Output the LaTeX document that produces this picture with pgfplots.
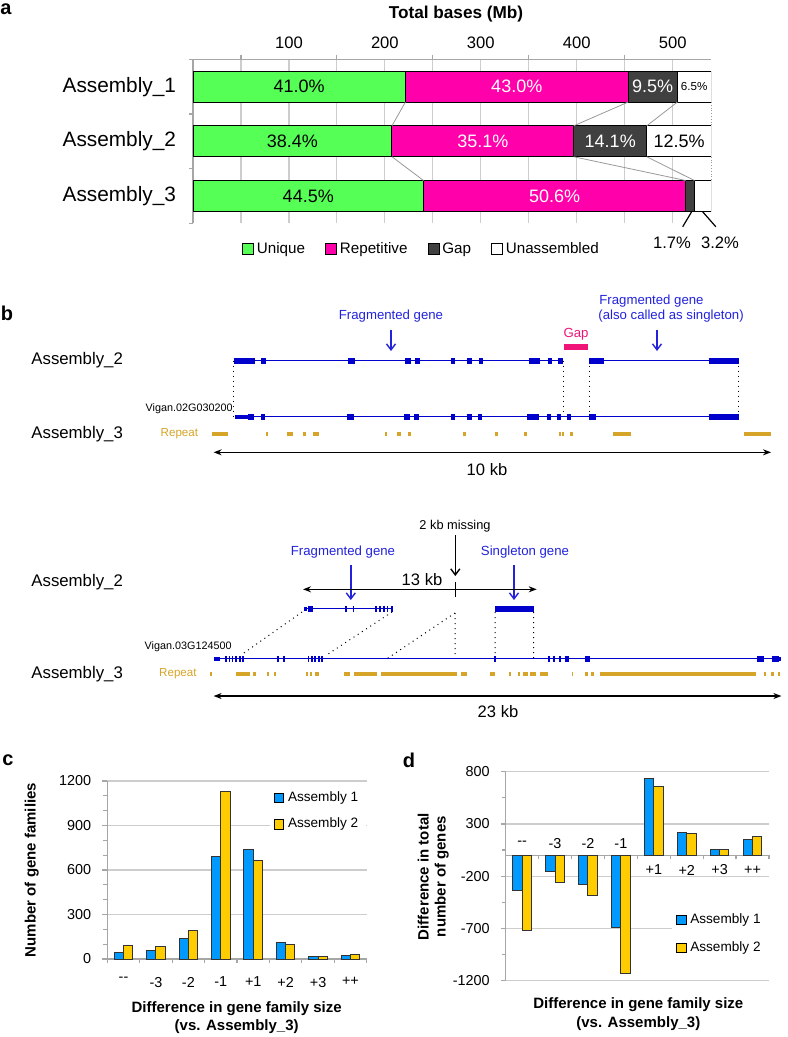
\documentclass[border=0pt]{standalone}
\usepackage{pgfplots}
\pgfplotsset{compat=1.18}
\usepackage{fontspec}
\setmainfont{Liberation Sans}
\usetikzlibrary{arrows.meta}

\definecolor{agreen}{RGB}{85,255,85}
\definecolor{amag}{RGB}{255,0,170}
\definecolor{agap}{RGB}{64,64,64}
\definecolor{gblue}{RGB}{0,0,204}
\definecolor{tblue}{RGB}{34,34,221}
\definecolor{gpink}{RGB}{238,20,120}
\definecolor{rgold}{RGB}{214,164,40}
\definecolor{cblue}{RGB}{0,153,255}
\definecolor{cgold}{RGB}{255,204,0}
\definecolor{gridc}{RGB}{205,205,205}

\newcommand{\fs}[1]{\fontsize{#1}{#1}\selectfont}

\pgfplotsset{
  /pgf/number format/assume math mode=true,
  /pgf/number format/1000 sep={},
  sqleg/.style={legend image code/.code={\draw[##1,draw=black,line width=0.4pt] (0pt,-#1) rectangle (2*#1,#1);}},
  exon/.style={gblue, line width=3pt},
  utr/.style={gblue, line width=1.8pt},
  intron/.style={gblue, line width=0.5pt},
  rep/.style={rgold, line width=2.2pt},
  ann/.style={tblue, line width=0.7pt, -{Straight Barb[length=3pt,width=4.5pt]}},
  scl/.style={black, line width=0.7pt, {Stealth[length=4pt,width=3pt]}-{Stealth[length=4pt,width=3pt]}},
  dots/.style={black, dotted, line width=0.5pt},
}

\begin{document}
\begin{tikzpicture}
\useasboundingbox (0,0) rectangle (393.5pt,-518.5pt);

% ---------- overlay in pixel units: panel b and free text ----------
\begin{axis}[at={(0pt,0pt)}, anchor=north west, scale only axis,
  width=393.5pt, height=518.5pt, xmin=0, xmax=787, ymin=0, ymax=1037,
  y dir=reverse, hide axis, clip=false, unbounded coords=jump]

% panel letters and titles
\node[font=\bfseries\fs{10}] at (6,9) {a};
\node[font=\bfseries\fs{10}] at (7,313) {b};
\node[font=\bfseries\fs{10}] at (8,760) {c};
\node[font=\bfseries\fs{10}] at (409,760) {d};
\node[font=\bfseries\fs{8.6}] at (456,14) {Total bases (Mb)};

% ----- b, top -----
\node[anchor=west, inner sep=0, font=\fs{8.4}] at (31,360) {Assembly\_2};
\node[anchor=west, inner sep=0, font=\fs{8.4}] at (31,434) {Assembly\_3};
\node[anchor=east, inner sep=0, font=\fs{5.8}, text=rgold] at (198.5,434) {Repeat};
\node[anchor=east, inner sep=0, font=\fs{5.4}] at (233,408.3) {Vigan.02G030200};
\node[font=\fs{6.6}, text=tblue] at (391,316) {Fragmented gene};
\node[font=\fs{6.6}, text=gpink] at (576,334.3) {Gap};
\node[anchor=west, inner sep=0, font=\fs{6.6}, text=tblue] at (599,300.7) {Fragmented gene};
\node[anchor=west, inner sep=0, font=\fs{6.6}, text=tblue] at (598,315.7) {(also called as singleton)};
\node[font=\fs{8.3}] at (487,469.3) {10 kb};

\addplot[ann] coordinates {(391,330) (391,351)};
\addplot[ann] coordinates {(657,330) (657,351)};
\addplot[gpink, line width=3pt] coordinates {(564,346.7) (588,346.7)};

\addplot[dots] coordinates {(233.7,360.7) (233.7,416.7) (nan,nan) (563.3,360.7) (563.3,416.7)
  (nan,nan) (589.4,360.7) (589.4,416.7) (nan,nan) (738.7,360.7) (738.7,416.7)};

% Assembly_2 gene models
\addplot[intron] coordinates {(233.7,360.7) (563.3,360.7) (nan,nan) (589.4,360.7) (738.7,360.7)};
\addplot[exon] coordinates {(233.7,360.7) (255.3,360.7) (nan,nan) (261.3,360.7) (266.3,360.7)
  (nan,nan) (348.2,360.7) (355.3,360.7) (nan,nan) (405,360.7) (411,360.7)
  (nan,nan) (415,360.7) (420,360.7) (nan,nan) (451.3,360.7) (455.3,360.7)
  (nan,nan) (467.3,360.7) (472.4,360.7) (nan,nan) (479,360.7) (483,360.7)
  (nan,nan) (528.6,360.7) (540.2,360.7) (nan,nan) (547.7,360.7) (551.8,360.7)
  (nan,nan) (558.3,360.7) (563.3,360.7) (nan,nan) (589.4,360.7) (604,360.7)
  (nan,nan) (708.5,360.7) (738.7,360.7)};

% Assembly_3 gene model
\addplot[intron] coordinates {(235,416.7) (738.7,416.7)};
\addplot[utr] coordinates {(235,416.7) (248.3,416.7)};
\addplot[exon] coordinates {(248.3,416.7) (254,416.7) (nan,nan) (261.3,416.7) (265.3,416.7)
  (nan,nan) (347.3,416.7) (354,416.7) (nan,nan) (404,416.7) (410,416.7)
  (nan,nan) (414.3,416.7) (419.3,416.7) (nan,nan) (450.7,416.7) (454.7,416.7)
  (nan,nan) (466.7,416.7) (472,416.7) (nan,nan) (478,416.7) (482,416.7)
  (nan,nan) (527.3,416.7) (539.3,416.7) (nan,nan) (546.7,416.7) (550.7,416.7)
  (nan,nan) (556.7,416.7) (561.3,416.7) (nan,nan) (567.3,416.7) (570.7,416.7)
  (nan,nan) (589.4,416.7) (596,416.7) (nan,nan) (708.5,416.7) (738.7,416.7)};

% repeats
\addplot[rep] coordinates {(211.7,434) (228.3,434) (nan,nan) (266,434) (268.3,434)
  (nan,nan) (287.3,434) (292.7,434) (nan,nan) (303.3,434) (306,434)
  (nan,nan) (313.3,434) (318.7,434) (nan,nan) (384.7,434) (387.3,434)
  (nan,nan) (396.7,434) (401.3,434) (nan,nan) (408,434) (410.7,434)
  (nan,nan) (463.3,434) (466,434) (nan,nan) (495.3,434) (498,434)
  (nan,nan) (524,434) (526.7,434) (nan,nan) (558.7,434) (560.7,434)
  (nan,nan) (562,434) (564,434) (nan,nan) (570,434) (573.3,434)
  (nan,nan) (613,434) (630.7,434) (nan,nan) (743.7,434) (771.4,434)};

\addplot[scl] coordinates {(213.6,452.3) (771,452.3)};

% ----- b, bottom -----
\node[anchor=west, inner sep=0, font=\fs{8.4}] at (31,581.7) {Assembly\_2};
\node[anchor=west, inner sep=0, font=\fs{8.4}] at (31,674) {Assembly\_3};
\node[anchor=east, inner sep=0, font=\fs{5.8}, text=rgold] at (197,674) {Repeat};
\node[anchor=east, inner sep=0, font=\fs{5.4}] at (232,646.7) {Vigan.03G124500};
\node[font=\fs{6.4}] at (455,526) {2 kb missing};
\node[font=\fs{6.6}, text=tblue] at (343,551.7) {Fragmented gene};
\node[font=\fs{6.6}, text=tblue] at (525,551.7) {Singleton gene};
\node[font=\fs{8.3}] at (422,579.3) {13 kb};
\node[font=\fs{8.3}] at (498,711.7) {23 kb};

\addplot[black, line width=0.7pt, -{Straight Barb[length=3pt,width=4.5pt]}] coordinates {(455.3,535) (455.3,576)};
\addplot[ann] coordinates {(350.8,565) (350.8,600)};
\addplot[ann] coordinates {(514,565) (514,600)};
\addplot[scl] coordinates {(303,589.3) (536.7,589.3)};
\addplot[black, line width=0.7pt] coordinates {(455.3,581.7) (455.3,597.3)};

\addplot[dots] coordinates {(302,612) (241,655) (nan,nan) (392,612) (326.6,655)
  (nan,nan) (455,613) (387,658.7) (nan,nan) (455,613) (455,658.7)
  (nan,nan) (495,612) (495,658.7) (nan,nan) (533.5,612) (533.5,658.7)};

\addplot[intron] coordinates {(304,608.7) (393,608.7)};
\addplot[utr] coordinates {(304,608.7) (307,608.7)};
\addplot[exon] coordinates {(308.2,608.7) (312.8,608.7) (nan,nan) (344.9,608.7) (346.8,608.7)
  (nan,nan) (352.5,608.7) (354,608.7) (nan,nan) (375.4,608.7) (377.3,608.7)
  (nan,nan) (379.2,608.7) (381.1,608.7) (nan,nan) (382.7,608.7) (384.6,608.7)
  (nan,nan) (386.5,608.7) (388.4,608.7) (nan,nan) (391,608.7) (393,608.7)
  (nan,nan) (495,608.7) (533.5,608.7)};

\addplot[intron] coordinates {(213.6,658.7) (781,658.7)};
\addplot[utr] coordinates {(213.6,658.7) (220,658.7)};
\addplot[exon] coordinates {(225,658.7) (226.6,658.7) (nan,nan) (228.5,658.7) (230,658.7)
  (nan,nan) (232,658.7) (233.4,658.7) (nan,nan) (235.3,658.7) (236.9,658.7)
  (nan,nan) (239.2,658.7) (240.7,658.7) (nan,nan) (242.2,658.7) (244.1,658.7)
  (nan,nan) (276.6,658.7) (278.9,658.7) (nan,nan) (283,658.7) (285,658.7)
  (nan,nan) (307.5,658.7) (309.4,658.7) (nan,nan) (310.9,658.7) (312.8,658.7)
  (nan,nan) (314.4,658.7) (316.3,658.7) (nan,nan) (317.8,658.7) (319.7,658.7)
  (nan,nan) (321.2,658.7) (323.1,658.7) (nan,nan) (494,658.7) (495.6,658.7)
  (nan,nan) (547.6,658.7) (549.5,658.7) (nan,nan) (552.9,658.7) (554.8,658.7)
  (nan,nan) (559.4,658.7) (561.3,658.7) (nan,nan) (564.7,658.7) (569.3,658.7)
  (nan,nan) (585.3,658.7) (589.5,658.7) (nan,nan) (757,658.7) (764,658.7)
  (nan,nan) (771.6,658.7) (778.5,658.7)};
\addplot[utr] coordinates {(778.5,658.7) (781,658.7)};

\addplot[rep] coordinates {(210,674) (211.6,674) (nan,nan) (236,674) (249.7,674)
  (nan,nan) (252.8,674) (256.3,674) (nan,nan) (267.3,674) (269.3,674)
  (nan,nan) (274.4,674) (276.4,674) (nan,nan) (305.5,674) (307.5,674)
  (nan,nan) (310,674) (311.6,674) (nan,nan) (315,674) (318.6,674)
  (nan,nan) (344,674) (350,674) (nan,nan) (354,674) (377,674)
  (nan,nan) (381,674) (457.3,674) (nan,nan) (461.3,674) (467.3,674)
  (nan,nan) (490,674) (494.5,674) (nan,nan) (508.5,674) (510.5,674)
  (nan,nan) (517.6,674) (520,674) (nan,nan) (522.6,674) (527.6,674)
  (nan,nan) (530,674) (535.7,674) (nan,nan) (540,674) (547.7,674)
  (nan,nan) (571.9,674) (573.4,674) (nan,nan) (585.4,674) (588,674)
  (nan,nan) (590.5,674) (594,674) (nan,nan) (599.5,674) (756.3,674)
  (nan,nan) (763.8,674) (766.3,674) (nan,nan) (771.4,674) (774,674)
  (nan,nan) (777.9,674) (780,674)};

\addplot[scl] coordinates {(213.6,696) (781.4,696)};

% ----- c, d axis titles -----
\node[font=\bfseries\fs{7.5}, rotate=90] at (31.7,870) {Number of gene families};
\node[font=\bfseries\fs{7.5}] at (236.7,1008.3) {Difference in gene family size};
\node[font=\bfseries\fs{7.5}] at (236.7,1026.7) {(vs. Assembly\_3)};
\node[font=\bfseries\fs{7.5}, rotate=90] at (423.3,876.7) {Difference in total};
\node[font=\bfseries\fs{7.5}, rotate=90] at (441.7,876.7) {number of genes};
\node[font=\bfseries\fs{7.5}] at (638.3,1005) {Difference in gene family size};
\node[font=\bfseries\fs{7.5}] at (638.3,1023.3) {(vs. Assembly\_3)};
\end{axis}

% ---------- panel a ----------
\begin{axis}[at={(96.5pt,-29.65pt)}, anchor=north west, scale only axis,
  width=259pt, height=82pt,
  xbar stacked, bar width=15.5pt,
  xmin=0, xmax=540, ymin=0.5, ymax=3.5,
  axis x line*=top, axis y line*=left,
  axis line style={gray!70, line width=0.6pt},
  xtick={100,200,...,500}, minor xtick={50,150,...,450},
  xmajorgrids, xminorgrids,
  grid style={gridc, line width=0.6pt}, minor grid style={gridc, line width=0.6pt},
  ytick={1,2,3}, yticklabels={Assembly\_3,Assembly\_2,Assembly\_1},
  minor ytick={0.5,1.5,2.5,3.5},
  tick align=outside, tick style={gray!70, line width=0.6pt},
  major tick length=0pt, minor tick length=2pt,
  xticklabel style={font=\fs{8.3}, yshift=2pt},
  yticklabel style={font=\fs{10.4}, xshift=-5pt},
  sqleg=2.75pt,
  legend style={at={(0.442,-0.159)}, anchor=center, draw=none, fill=none,
    legend columns=4, font=\fs{7.6}, nodes={inner xsep=1.5pt},
    /tikz/every even column/.append style={column sep=8.5pt}},
]
\addplot[fill=agreen, draw=black, line width=0.5pt] coordinates {(240.3,1) (207.4,2) (221.4,3)};
\addplot[fill=amag, draw=black, line width=0.5pt] coordinates {(273.2,1) (189.5,2) (232.2,3)};
\addplot[fill=agap, draw=black, line width=0.5pt] coordinates {(9.2,1) (76.1,2) (51.3,3)};
\addplot[fill=white, draw=black, line width=0.5pt] coordinates {(17.3,1) (67.0,2) (35.1,3)};
\legend{Unique, Repetitive, Gap, Unassembled}
\end{axis}

% connecting lines and labels of panel a
\begin{axis}[at={(96.5pt,-29.65pt)}, anchor=north west, scale only axis,
  width=259pt, height=82pt, xmin=0, xmax=540, ymin=0.5, ymax=3.5,
  hide axis, clip=false, unbounded coords=jump]
\addplot[gray!80, line width=0.4pt] coordinates {(221.4,2.717) (207.4,2.283) (nan,nan)
  (453.6,2.717) (396.9,2.283) (nan,nan) (504.9,2.717) (473.0,2.283) (nan,nan)
  (207.4,1.717) (240.3,1.283) (nan,nan) (396.9,1.717) (513.5,1.283) (nan,nan)
  (473.0,1.717) (522.7,1.283)};
\addplot[gray!80, line width=0.4pt, densely dotted] coordinates {(540,2.717) (540,2.283) (nan,nan) (540,1.717) (540,1.283)};
\addplot[black, line width=0.6pt] coordinates {(520,0.717) (510.5,0.437) (nan,nan) (531,0.717) (545,0.437)};
\addplot[only marks, mark=none, nodes near coords, point meta=explicit symbolic,
  nodes near coords style={anchor=center, font=\fs{9}, text=black}]
  coordinates {(110.7,3) [41.0\%] (103.7,2) [38.4\%] (120.15,1) [44.5\%] (506.75,2) [12.5\%]};
\addplot[only marks, mark=none, nodes near coords, point meta=explicit symbolic,
  nodes near coords style={anchor=center, font=\fs{9}, text=white}]
  coordinates {(337.5,3) [43.0\%] (302.15,2) [35.1\%] (376.9,1) [50.6\%] (479.25,3) [9.5\%] (434.95,2) [14.1\%]};
\addplot[only marks, mark=none, nodes near coords, point meta=explicit symbolic,
  nodes near coords style={anchor=center, font=\fs{5.8}, text=black}]
  coordinates {(522.45,3) [6.5\%]};
\addplot[only marks, mark=none, nodes near coords, point meta=explicit symbolic,
  nodes near coords style={anchor=center, font=\fs{8.3}, text=black}]
  coordinates {(499.3,0.146) [1.7\%] (549.4,0.146) [3.2\%]};
\end{axis}

% ---------- panel c ----------
\begin{axis}[at={(53.65pt,-479.5pt)}, anchor=south west, scale only axis,
  width=129.7pt, height=89pt,
  ybar=0pt, bar width=4.65pt,
  xmin=-0.5, xmax=7.5, ymin=0, ymax=1200,
  axis x line*=bottom, axis y line*=left,
  axis line style={gray!70, line width=0.6pt},
  xtick={0,...,7}, xticklabels={{-{}-},-3,-2,-1,+1,+2,+3,++},
  minor xtick={-0.5,0.5,...,7.5},
  ytick={0,300,...,1200}, minor y tick num=2,
  tick align=outside, tick style={gray!70, line width=0.6pt},
  major tick length=2.5pt, minor tick length=2pt,
  major x tick style={draw=none},
  ymajorgrids, grid style={gridc, line width=0.6pt},
  tick label style={font=\fs{7.2}},
  xticklabel style={yshift=-3pt},
  yticklabel style={xshift=-2pt},
  sqleg=2.3pt,
  legend style={at={(1,0.99)}, anchor=north east, draw=none, fill=white,
    font=\fs{6.8}, row sep=3pt, inner sep=2pt},
]
\addplot[fill=cblue, draw=black!80, line width=0.5pt] coordinates {(0,45) (1,56) (2,139) (3,694) (4,735) (5,108) (6,18) (7,25)};
\addplot[fill=cgold, draw=black!80, line width=0.5pt] coordinates {(0,90) (1,85) (2,195) (3,1130) (4,661) (5,101) (6,18) (7,29)};
\legend{Assembly 1, Assembly 2}
\end{axis}

% ---------- panel d ----------
\begin{axis}[at={(252.85pt,-385.85pt)}, anchor=north west, scale only axis,
  width=131.65pt, height=104.5pt,
  ybar=0pt, bar width=4.65pt,
  xmin=-0.5, xmax=7.5, ymin=-1200, ymax=800,
  axis x line*=middle, axis y line*=left,
  axis line style={gray!70, line width=0.6pt},
  xtick={0,...,7}, xticklabels={},
  minor xtick={-0.5,0.5,...,7.5},
  ytick={-1200,-700,...,800}, minor y tick num=1,
  tick align=outside, tick style={gray!70, line width=0.6pt},
  major tick length=2.5pt, minor tick length=2pt,
  major x tick style={draw=none},
  ymajorgrids, grid style={gridc, line width=0.6pt},
  tick label style={font=\fs{7.2}},
  yticklabel style={xshift=-2pt},
  sqleg=2.3pt,
  legend style={at={(1,0.362)}, anchor=north east, draw=none, fill=white,
    font=\fs{6.8}, row sep=3.5pt, inner sep=2pt},
  clip=false,
]
\addplot[fill=cblue, draw=black!80, line width=0.5pt] coordinates {(0,-332) (1,-157) (2,-278) (3,-693) (4,737) (5,220) (6,60) (7,153)};
\addplot[fill=cgold, draw=black!80, line width=0.5pt] coordinates {(0,-715) (1,-259) (2,-386) (3,-1129) (4,663) (5,210) (6,60) (7,178)};
\legend{Assembly 1, Assembly 2}
\node[font=\fs{7.2}] at (0,115) {-{}-};
\node[font=\fs{7.2}] at (1,115) {-3};
\node[font=\fs{7.2}] at (2,115) {-2};
\node[font=\fs{7.2}] at (3,115) {-1};
\node[font=\fs{7.2}] at (4,-141) {+1};
\node[font=\fs{7.2}] at (5,-141) {+2};
\node[font=\fs{7.2}] at (6,-141) {+3};
\node[font=\fs{7.2}] at (7,-141) {++};
\end{axis}
\end{tikzpicture}
\end{document}
